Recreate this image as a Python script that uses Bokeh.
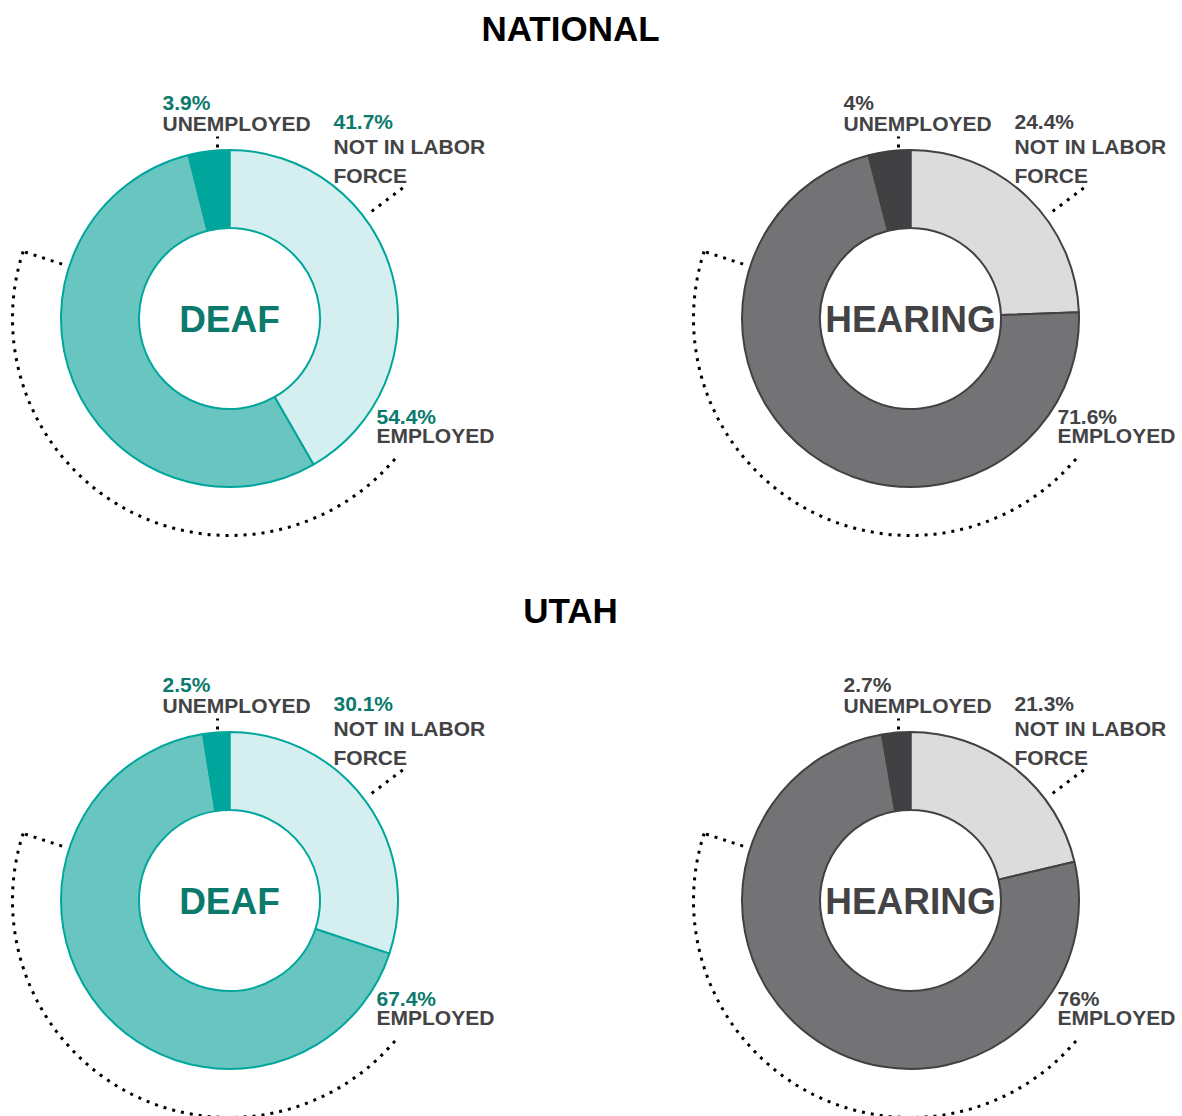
import math
from bokeh.plotting import figure
from bokeh.models import Range1d
from bokeh.core.properties import value
from bokeh.embed import file_html
from bokeh.resources import INLINE

# ---- data ----
categories = ["NOT IN LABOR FORCE", "EMPLOYED", "UNEMPLOYED"]
label_lines = [["NOT IN LABOR", "FORCE"], ["EMPLOYED"], ["UNEMPLOYED"]]
national_deaf = [41.7, 54.4, 3.9]
national_hearing = [24.4, 71.6, 4.0]
utah_deaf = [30.1, 67.4, 2.5]
utah_hearing = [21.3, 76.0, 2.7]
section_titles = ["NATIONAL", "UTAH"]
group_names = ["DEAF", "HEARING"]

# ---- styles ----
FONT = value("Liberation Sans")
W, H = 1182, 1116
styles = {
    "DEAF": dict(fills=["#d5eef0", "#69c5bf", "#00a69c"], line="#00a69c",
                 pct="#0b7a6d", center="#0b7a6d"),
    "HEARING": dict(fills=["#dcdcdc", "#737375", "#414143"], line="#414143",
                    pct="#434345", center="#434345"),
}
LABEL_COLOR = "#434345"
BIG_SHIFT = 13    # baseline correction for large text
SMALL_SHIFT = 9   # baseline correction for label text

p = figure(width=W, height=H, output_backend="svg", toolbar_location=None,
           x_range=Range1d(0, W), y_range=Range1d(0, H),
           x_axis_location=None, y_axis_location=None, min_border=0,
           outline_line_color=None, background_fill_color="white")
p.grid.visible = False


def ref(x, y):
    # convert reference screenshot pixel to data coords
    return x, H - y


R_OUT, R_IN = 168.5, 90.5
R_ARC = 217

panels = [
    (section_titles[0], group_names[0], national_deaf, ref(229, 318)),
    (section_titles[0], group_names[1], national_hearing, ref(910, 318)),
    (section_titles[1], group_names[0], utah_deaf, ref(229, 900)),
    (section_titles[1], group_names[1], utah_hearing, ref(910, 900)),
]

# section titles
for title, ry in zip(section_titles, [41, 623]):
    tx, ty = ref(570, ry)
    p.text(x=[tx], y=[ty + BIG_SHIFT], text=[title], text_font=FONT, text_font_style="bold",
           text_font_size="35px", text_color="#000000", text_align="center",
           text_baseline="alphabetic")

for title, group, vals, (cx, cy) in panels:
    st = styles[group]
    total = sum(vals)
    cum = 0.0
    starts, ends = [], []
    for v in vals:
        a0 = math.pi / 2 - 2 * math.pi * (cum + v) / total
        a1 = math.pi / 2 - 2 * math.pi * cum / total
        starts.append(a0)
        ends.append(a1)
        cum += v
    p.annular_wedge(x=[cx] * 3, y=[cy] * 3, inner_radius=R_IN, outer_radius=R_OUT,
                    start_angle=starts, end_angle=ends, fill_color=st["fills"],
                    line_color=st["line"], line_width=2)

    # center label
    p.text(x=[cx], y=[cy - 14 + BIG_SHIFT], text=[group], text_font=FONT,
           text_font_style="bold", text_font_size="37px", text_color=st["center"],
           text_align="center", text_baseline="alphabetic")

    # dotted decorations
    dot = dict(line_color="black", line_width=3, line_dash="3 6")
    p.arc(x=[cx], y=[cy], radius=R_ARC, start_angle=math.radians(162),
          end_angle=math.radians(321), direction="anticlock", **dot)
    a = math.radians(162)
    p.segment(x0=[cx + 176 * math.cos(a)], y0=[cy + 176 * math.sin(a)],
              x1=[cx + R_ARC * math.cos(a)], y1=[cy + R_ARC * math.sin(a)], **dot)
    a = math.radians(37)
    p.segment(x0=[cx + 178 * math.cos(a)], y0=[cy + 178 * math.sin(a)],
              x1=[cx + 220 * math.cos(a)], y1=[cy + 220 * math.sin(a)], **dot)
    p.segment(x0=[cx - 12], y0=[cy + 171], x1=[cx - 12], y1=[cy + 182], **dot)

    # labels: (dx, pct baseline dy, line baselines dy) in screen offsets (down positive)
    label_pos = [
        (104, -188.5, [-163.5, -134]),   # NOT IN LABOR FORCE
        (147, 107, [126]),               # EMPLOYED
        (-67, -207, [-186]),             # UNEMPLOYED
    ]
    for i, v in enumerate(vals):
        dx, pdy, ldys = label_pos[i]
        p.text(x=[cx + dx], y=[cy - pdy + SMALL_SHIFT], text=[f"{v:g}%"], text_font=FONT,
               text_font_style="bold", text_font_size="21px", text_color=st["pct"],
               text_align="left", text_baseline="alphabetic")
        for line, ldy in zip(label_lines[i], ldys):
            p.text(x=[cx + dx], y=[cy - ldy + SMALL_SHIFT], text=[line], text_font=FONT,
                   text_font_style="bold", text_font_size="21px", text_color=LABEL_COLOR,
                   text_align="left", text_baseline="alphabetic")

open("out.html", "w").write(file_html(p, INLINE))
